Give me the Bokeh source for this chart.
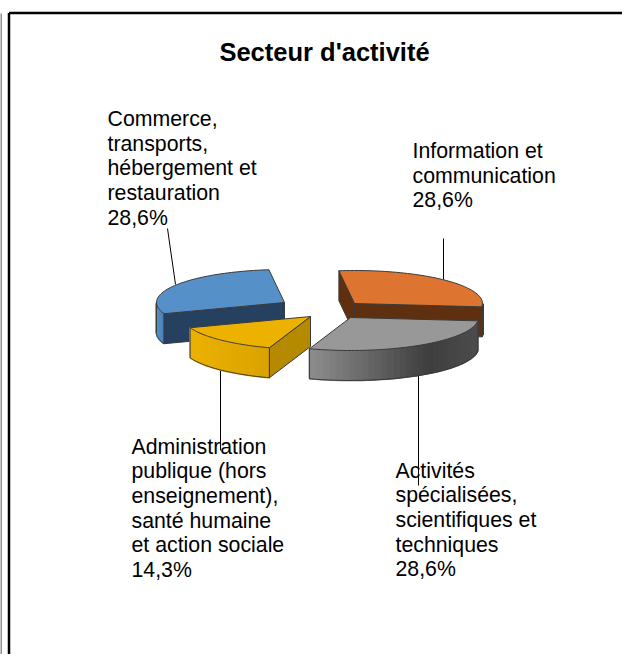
import numpy as np
from bokeh.plotting import figure
from bokeh.models import Range1d
from bokeh.core.properties import value
from bokeh.embed import file_html
from bokeh.resources import INLINE

title = "Secteur d'activité"
categories = ["Information et communication",
              "Activités spécialisées, scientifiques et techniques",
              "Administration publique (hors enseignement), santé humaine et action sociale",
              "Commerce, transports, hébergement et restauration"]
shares = [28.6, 28.6, 14.3, 28.6]
pct_labels = ["28,6%", "28,6%", "14,3%", "28,6%"]
label_lines = [["Information et", "communication"],
               ["Activités", "spécialisées,", "scientifiques et", "techniques"],
               ["Administration", "publique (hors", "enseignement),", "santé humaine", "et action sociale"],
               ["Commerce,", "transports,", "hébergement et", "restauration"]]
top_colors = ["#DD7430", "#989898", "#EDB200", "#5590C8"]
cut_colors = ["#5F3010", "#555555", "#B58A00", "#264060"]
wall_light = ["#6A3712", "#8E8E8E", "#EDB200", "#5590C8"]
wall_dark = ["#5F3010", "#3F3F3F", "#D9A300", "#4A80B8"]

# layout of the exploded pie in picture pixels
A, B, DEPTH = 128.0, 33.0, 30.0
START = -97.0
apex = [(354, 303), (350, 317), (310, 316), (284, 302)]
label_pos = [(412, 150.5), (395, 470), (131, 446), (107, 118.5)]
leaders = [((443, 238), (443, 280)), ((418, 375), (418, 485)),
           ((220, 370), (220, 450)), ((167, 228), (175, 284))]
LH = 24.7
OUT = "#3A3A3A"

p = figure(width=622, height=654, output_backend="svg", toolbar_location=None,
           x_range=Range1d(0, 622), y_range=Range1d(654, 0),
           min_border=0, outline_line_color=None, background_fill_color="white")
p.axis.visible = False
p.grid.visible = False

# frame
p.line([0.5, 0.5], [654, 13], line_color="#222222", line_width=1)
p.line([8.5, 8.5], [654, 12.5], line_color="black", line_width=2.5)
p.line([8.5, 622], [12.5, 12.5], line_color="black", line_width=2.5)


def hex2rgb(h):
    return np.array([int(h[i:i + 2], 16) for i in (1, 3, 5)], dtype=float)


def mix(a, b, t):
    c = hex2rgb(a) * (1 - t) + hex2rgb(b) * t
    return "#%02x%02x%02x" % tuple(int(v) for v in c)


angles = START + np.concatenate([[0], np.cumsum(np.array(shares) / sum(shares) * 360)])


def arc(i, a0=None, a1=None, n=60):
    a0 = angles[i] if a0 is None else a0
    a1 = angles[i + 1] if a1 is None else a1
    t = np.radians(np.linspace(a0, a1, n))
    return apex[i][0] + A * np.cos(t), apex[i][1] + B * np.sin(t)


def cut(i, ang):
    x0, y0 = apex[i]
    t = np.radians(ang)
    x1, y1 = x0 + A * np.cos(t), y0 + B * np.sin(t)
    p.patch([x0, x1, x1, x0], [y0, y1, y1 + DEPTH, y0 + DEPTH],
            fill_color=cut_colors[i], line_color=OUT, line_width=1)


def wall(i, a0, a1):
    # outer wall: visible only where the rim faces the viewer
    a0, a1 = max(a0, 0), min(a1, 180)
    if a1 <= a0:
        return
    xs, ys = arc(i, a0, a1, 36)
    xmin, xmax = xs.min(), xs.max()
    for k in range(len(xs) - 1):
        t = (0.5 * (xs[k] + xs[k + 1]) - xmin) / max(xmax - xmin, 1)
        t = min(t / 0.7, 1 - (t - 0.7) * 0.6) if i == 1 else t
        col = mix(wall_light[i], wall_dark[i], float(np.clip(t, 0, 1)))
        p.patch([xs[k], xs[k + 1], xs[k + 1], xs[k]],
                [ys[k], ys[k + 1], ys[k + 1] + DEPTH, ys[k] + DEPTH],
                fill_color=col, line_color=col, line_width=1.6)
    p.line(xs, ys + DEPTH, line_color=OUT, line_width=1)
    for xv, yv in ((xs[0], ys[0]), (xs[-1], ys[-1])):
        p.line([xv, xv], [yv, yv + DEPTH], line_color=OUT, line_width=1)


def top(i):
    xs, ys = arc(i)
    p.patch(np.r_[apex[i][0], xs], np.r_[apex[i][1], ys],
            fill_color=top_colors[i], line_color=OUT, line_width=1)


# leader lines behind the pie
for (a, b) in leaders:
    p.line([a[0], b[0]], [a[1], b[1]], line_color="black", line_width=1)

# blue, orange, then the two front slices
wall(3, angles[3], angles[4]); cut(3, angles[3]); top(3)
cut(0, angles[0]); cut(0, angles[1]); wall(0, 0, angles[1]); top(0)
wall(1, angles[1], angles[2]); top(1)
wall(2, angles[2], angles[3]); cut(2, angles[2]); top(2)

FONT = value("Liberation Sans")
p.text([324], [51], text=[title], text_font=FONT, text_font_size="25.5px",
       text_font_style="bold", text_align="center", text_baseline="alphabetic", text_color="black")

for lines, pct, (x, y) in zip(label_lines, pct_labels, label_pos):
    rows = lines + [pct]
    p.text([x] * len(rows), [y + LH * k for k in range(len(rows))], text=rows,
           text_font=FONT, text_font_size="21.3px", text_align="left",
           text_baseline="alphabetic", text_color="black")

open("out.html", "w").write(file_html(p, INLINE))
